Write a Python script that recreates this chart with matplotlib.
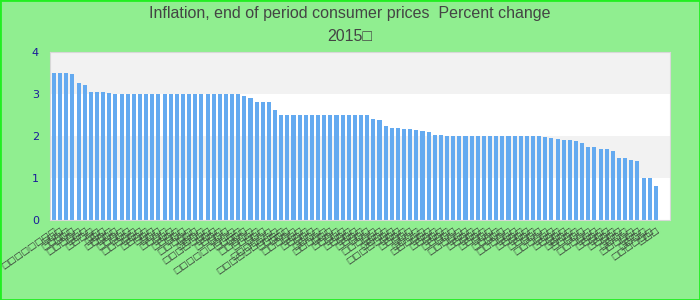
import numpy as np
import matplotlib
matplotlib.use("Agg")
import matplotlib.pyplot as plt
from matplotlib.patches import Rectangle

title_1 = "Inflation, end of period consumer prices  Percent change"
title_2 = "2015\u25a1"

values = [3.5, 3.5, 3.5, 3.48, 3.26, 3.21, 3.05, 3.05, 3.05, 3.02,
          3.0, 3.0, 3.0, 3.0, 3.0, 3.0, 3.0, 3.0, 3.0, 3.0,
          3.0, 3.0, 3.0, 3.0, 3.0, 3.0, 3.0, 3.0, 3.0, 3.0,
          3.0, 2.95, 2.9, 2.8, 2.8, 2.8, 2.62, 2.5, 2.5, 2.5,
          2.5, 2.5, 2.5, 2.5, 2.5, 2.5, 2.5, 2.5, 2.5, 2.5,
          2.5, 2.5, 2.4, 2.38, 2.24, 2.19, 2.19, 2.17, 2.17, 2.14,
          2.12, 2.1, 2.03, 2.03, 2.0, 2.0, 2.0, 2.0, 2.0, 2.0,
          2.0, 2.0, 2.0, 2.0, 2.0, 2.0, 2.0, 2.0, 2.0, 2.0,
          1.98, 1.95, 1.93, 1.9, 1.9, 1.88, 1.83, 1.74, 1.74, 1.69,
          1.69, 1.64, 1.48, 1.48, 1.43, 1.4, 1.0, 1.0, 0.8]

# category names are unreadable in the reference (missing glyphs), kept as boxes
label_len = [8, 3, 4, 3, 5, 3, 4, 2, 3, 4,
             3, 4, 3, 5, 3, 4, 3, 3, 4, 3,
             4, 3, 5, 3, 4, 7, 3, 4, 3, 9,
             4, 3, 5, 4, 3, 6, 9, 4, 3, 5,
             3, 4, 3, 4, 5, 3, 4, 3, 4, 3,
             4, 3, 5, 3, 4, 7, 3, 4, 3, 4,
             5, 3, 4, 3, 4, 3, 5, 3, 4, 3,
             4, 3, 4, 3, 5, 3, 4, 3, 4, 3,
             5, 3, 4, 3, 4, 4, 3, 5, 3, 4,
             3, 4, 3, 4, 5, 3, 4, 6, 3]
labels = ["\u25a1" * n for n in label_len]

fig = plt.figure(figsize=(7, 3), dpi=100)
fig.patch.set_facecolor("#90ee90")
fig.patches.append(Rectangle((0, 0), 1, 1, transform=fig.transFigure, fill=False,
                             edgecolor="#22ee22", linewidth=2))

ax = fig.add_axes([50 / 700, 80 / 300, 620 / 700, 168 / 300])
ax.set_facecolor("white")
for lo in [1, 3]:
    ax.axhspan(lo, lo + 1, color="#f2f2f2", zorder=0, lw=0)

x = np.arange(len(values))
ax.bar(x, values, width=0.66, color="#64aaf0", zorder=2)

ax.set_xlim(-0.65, 100.3)
ax.set_ylim(0, 4)
ax.set_yticks([0, 1, 2, 3, 4])
ax.tick_params(axis="y", length=0, pad=8, labelcolor="#1a1a9a", labelsize=8)
ax.set_xticks(x)
ax.set_xticklabels(labels, rotation=35, ha="right", rotation_mode="anchor",
                   fontsize=6.3, color="#333333")
ax.tick_params(axis="x", length=0, pad=4)
for s in ax.spines.values():
    s.set_color("#d8d8d8")

fig.text(0.5, 0.955, title_1, ha="center", va="center", fontsize=11.5,
         color="#444444", family="Liberation Sans")
fig.text(0.5, 0.878, title_2, ha="center", va="center", fontsize=11.5,
         color="#444444", family="Liberation Sans")

fig.savefig("out.png", dpi=100, facecolor=fig.get_facecolor())
